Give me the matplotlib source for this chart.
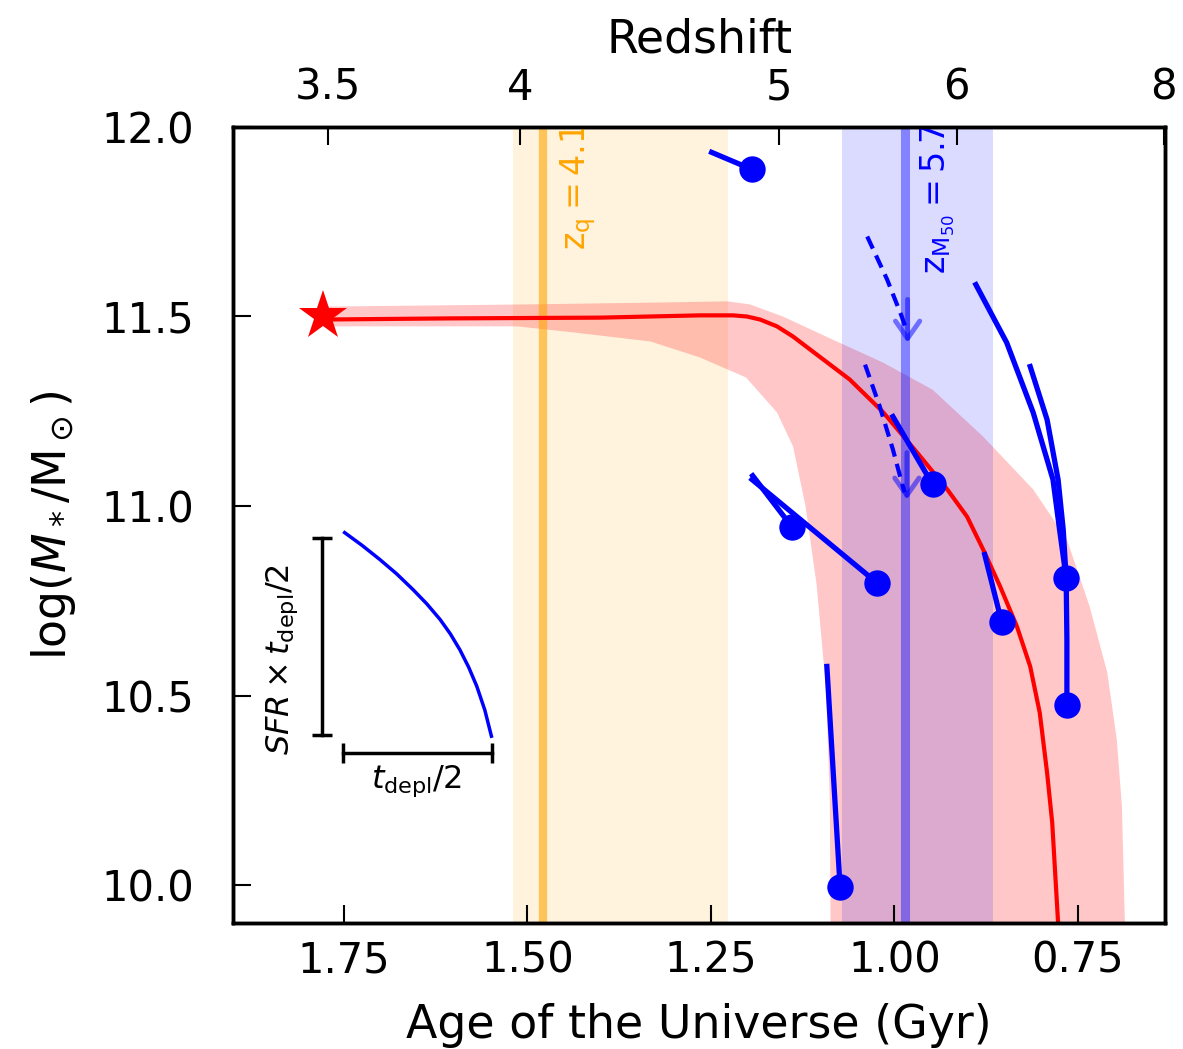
"""
Stellar-mass growth tracks against cosmic age, with the redshift scale on top.
"""

import numpy as np
import matplotlib
matplotlib.use("Agg")
import matplotlib.pyplot as plt

# axes ticks
AGE_TICKS  = [1.75, 1.50, 1.25, 1.00, 0.75]
LOGM_TICKS = [10.0, 10.5, 11.0, 11.5, 12.0]
Z_LABELS   = ["3.5", "4", "5", "6", "8"]
Z_AGES     = [1.772, 1.510, 1.157, 0.915, 0.633]

# descendant (star) and the median growth track leading to it
STAR_AGE, STAR_LOGM = 1.779, 11.50
track_age  = [1.779, 1.606, 1.401, 1.265, 1.220, 1.201, 1.183, 1.160, 1.138, 1.106, 1.061,
              1.016, 0.969, 0.928, 0.901, 0.879, 0.856, 0.833, 0.815, 0.802, 0.792,
              0.785, 0.781, 0.777]
track_logm = [11.492, 11.495, 11.497, 11.503, 11.503, 11.500, 11.492, 11.474, 11.447, 11.400, 11.334,
              11.249, 11.141, 11.044, 10.972, 10.885, 10.788, 10.682, 10.577, 10.455, 10.297,
              10.165, 10.033, 9.901]

# spread of the growth track
band_up_age  = [1.779, 1.497, 1.315, 1.228, 1.197, 1.152, 1.084, 1.016, 0.948, 0.879,
                0.811, 0.765, 0.734, 0.710, 0.697, 0.690, 0.686]
band_up_logm = [11.526, 11.532, 11.537, 11.540, 11.532, 11.500, 11.439, 11.379, 11.307, 11.183,
                11.044, 10.912, 10.735, 10.561, 10.384, 10.207, 9.90]
band_lo_age  = [1.779, 1.514, 1.437, 1.332, 1.265, 1.202, 1.160, 1.138, 1.121, 1.106,
                1.093, 1.088, 1.087]
band_lo_logm = [11.474, 11.474, 11.458, 11.434, 11.392, 11.339, 11.247, 11.157, 10.999, 10.793,
                10.516, 10.226, 9.90]

# quenching epoch and epoch of half-mass assembly
ZQ_AGE, ZQ_LO, ZQ_HI = 1.479, 1.520, 1.227
ZM_AGE, ZM_LO, ZM_HI = 0.986, 1.071, 0.866

# observed progenitors and their growth tracks
gal_age  = [1.194, 0.948, 1.140, 1.024, 1.074, 0.854, 0.766, 0.765]
gal_logm = [11.888, 11.057, 10.946, 10.798, 9.996, 10.695, 10.811, 10.476]
tracks = [
    ([1.249, 1.194], [11.933, 11.888]),
    ([1.002, 0.948], [11.236, 11.057]),
    ([1.193, 1.140], [11.080, 10.946]),
    ([1.194, 1.024], [11.070, 10.798]),
    ([1.092, 1.074], [10.577, 9.996]),
    ([0.877, 0.854], [10.872, 10.695]),
    ([0.889, 0.847, 0.811, 0.784, 0.775, 0.766],
     [11.584, 11.431, 11.247, 11.070, 10.938, 10.811]),
    ([0.815, 0.792, 0.777, 0.770, 0.766, 0.765, 0.765],
     [11.368, 11.228, 11.070, 10.938, 10.811, 10.648, 10.476]),
]

# upper limits (dashed) with their arrows
dashed = [
    ([1.037, 1.010, 0.990, 0.984], [11.711, 11.598, 11.500, 11.466]),
    ([1.040, 1.020, 1.002, 0.990, 0.986], [11.373, 11.263, 11.149, 11.062, 11.036]),
]
arrows = [((0.982, 11.545), (0.982, 11.431)),
          ((0.983, 11.141), (0.983, 11.017))]

# scale key: one track over t_depl/2
key_age  = [1.749, 1.725, 1.701, 1.678, 1.656, 1.637, 1.619, 1.605, 1.592, 1.580, 1.569, 1.558, 1.549]
key_logm = [10.930, 10.896, 10.859, 10.821, 10.780, 10.742, 10.701, 10.663, 10.621, 10.575,
            10.525, 10.462, 10.393]
KEY_VBAR = (1.780, 10.397, 10.917)
KEY_HBAR = (10.350, 1.751, 1.548)


fig = plt.figure(figsize=(11.83, 10.49), dpi=100)
ax = fig.add_axes([0.197, 0.120, 0.788, 0.759])

ax.axvspan(ZQ_LO, ZQ_HI, color="orange", alpha=0.13, lw=0)
ax.axvline(ZQ_AGE, color="orange", alpha=0.6, lw=6)

ax.fill(np.r_[band_up_age, band_lo_age[::-1]], np.r_[band_up_logm, band_lo_logm[::-1]],
        color="red", alpha=0.22, lw=0)

ax.axvspan(ZM_LO, ZM_HI, color="blue", alpha=0.14, lw=0)
ax.axvline(ZM_AGE, color="blue", alpha=0.4, lw=6.5)

ax.plot(track_age, track_logm, color="red", lw=3)
ax.plot(STAR_AGE, STAR_LOGM, marker="*", ms=37, color="red", mew=0, zorder=5)

for a, m in tracks:
    ax.plot(a, m, color="blue", lw=3.8)
for a, m in dashed:
    ax.plot(a, m, color="blue", lw=3, ls=(0, (3.2, 1.8)))
for start, tip in arrows:
    ax.annotate("", xy=tip, xytext=start,
                arrowprops=dict(arrowstyle="->,head_length=0.5,head_width=0.35",
                                color="blue", alpha=0.5, lw=3.5,
                                shrinkA=0, shrinkB=0, mutation_scale=25))
ax.plot(gal_age, gal_logm, "o", color="blue", ms=19, mew=0, zorder=4)

# key in the lower left
ax.plot(key_age, key_logm, color="blue", lw=2.5)
x, y0, y1 = KEY_VBAR
ax.plot([x, x], [y0, y1], color="k", lw=2.5, marker="_", ms=14, mew=2.5)
y, x0, x1 = KEY_HBAR
ax.plot([x0, x1], [y, y], color="k", lw=2.5, marker="|", ms=14, mew=2.5)
ax.text(1.834, 10.595, r"$SFR\times t_{\rm depl}/2$", rotation=90,
        ha="center", va="center", fontsize=23)
ax.text(1.651, 10.275, r"$t_{\rm depl}/2$", ha="center", va="center", fontsize=23)

ax.text(1.431, 12.01, r"$\mathrm{z_q = 4.1}$", rotation=90, color="orange",
        ha="center", va="top", fontsize=24, clip_on=True)
ax.text(0.941, 12.01, r"$\mathrm{z_{M_{50}} = 5.7}$", rotation=90, color="blue",
        ha="center", va="top", fontsize=24, clip_on=True)

ax.set_xlim(1.901, 0.631)
ax.set_ylim(9.90, 12.0)
ax.set_xticks(AGE_TICKS)
ax.set_xticklabels([f"{a:.2f}" for a in AGE_TICKS])
ax.set_yticks(LOGM_TICKS)
ax.set_yticklabels([f"{m:.1f}" for m in LOGM_TICKS])
ax.tick_params(direction="in", length=13, width=1.5, labelsize=30)
ax.tick_params(axis="x", pad=12)
ax.tick_params(axis="y", pad=28)
ax.set_xlabel("Age of the Universe (Gyr)", fontsize=33, labelpad=15)
ax.set_ylabel(r"$\log(M_*/\mathrm{M}_\odot)$", fontsize=33, labelpad=17)

axt = ax.twiny()
axt.set_xlim(ax.get_xlim())
axt.set_xticks(Z_AGES)
axt.set_xticklabels(Z_LABELS)
axt.tick_params(direction="in", length=13, width=1.5, labelsize=30, pad=13)
axt.set_xlabel("Redshift", fontsize=33, labelpad=10)

for a in (ax, axt):
    for s in a.spines.values():
        s.set_linewidth(2.5)

fig.savefig("out.png", dpi=100)
